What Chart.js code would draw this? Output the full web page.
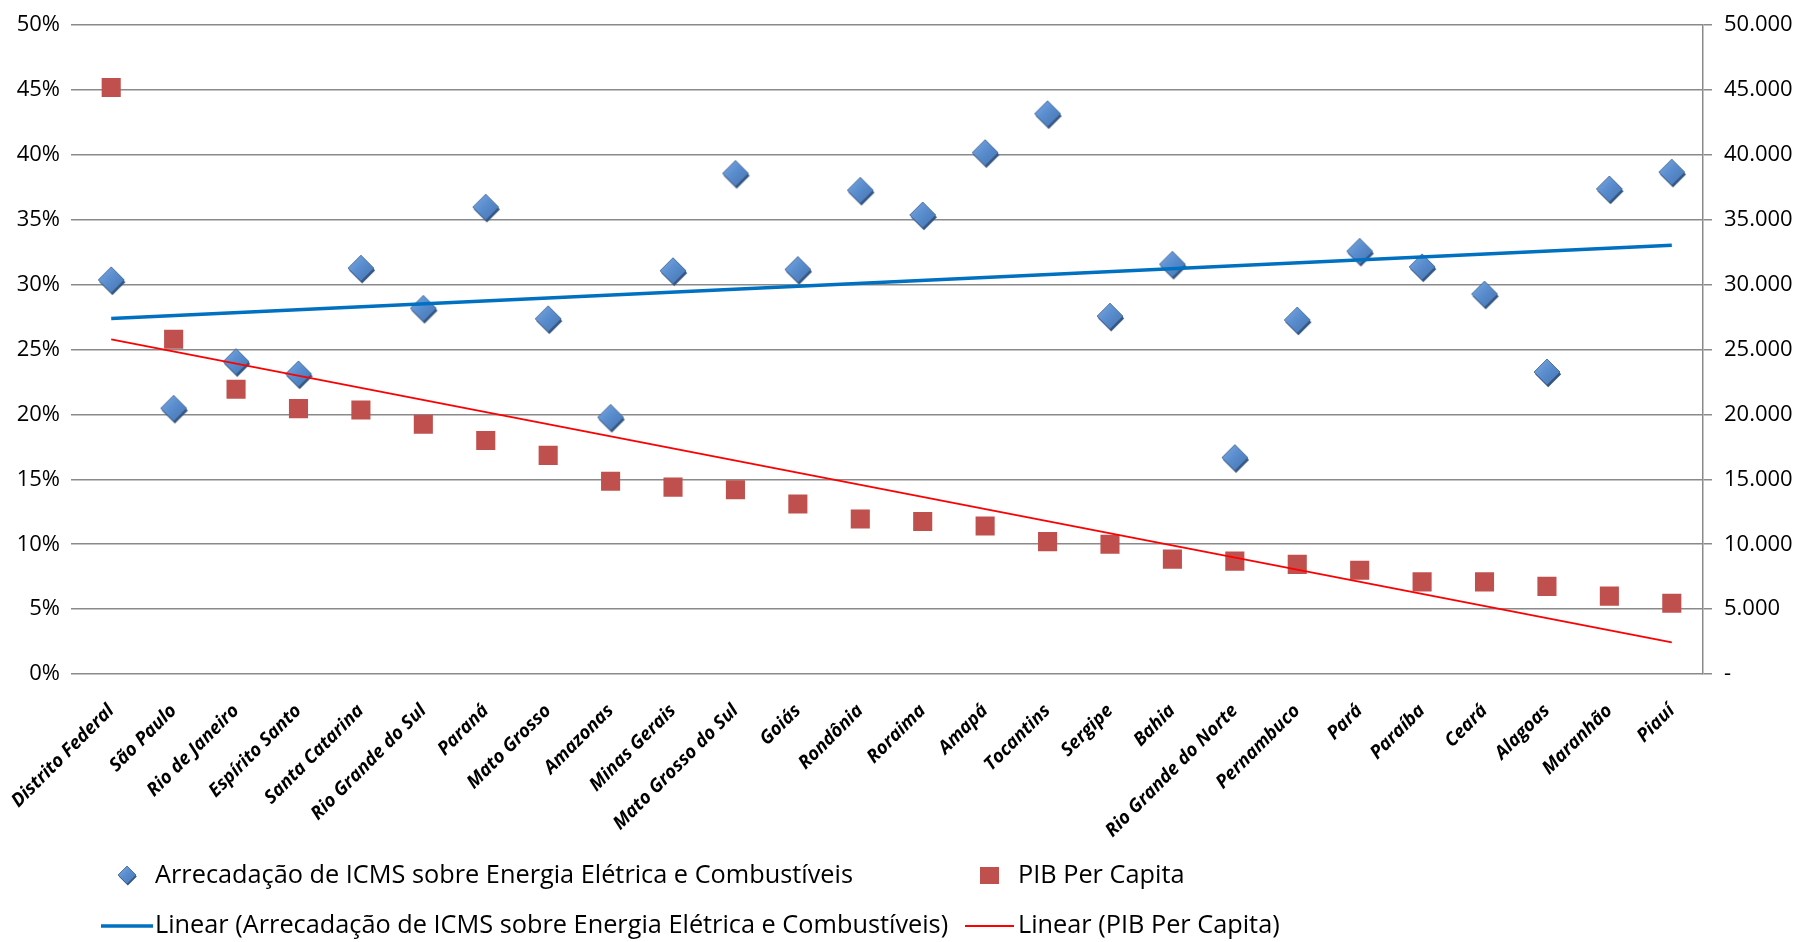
<!DOCTYPE html>
<html lang="pt-BR">
<head>
<meta charset="utf-8">
<title>ICMS sobre Energia Elétrica e Combustíveis x PIB Per Capita</title>
<script src="https://cdn.jsdelivr.net/npm/chart.js@4.4.1/dist/chart.umd.min.js"></script>
<style>
  html, body { margin: 0; padding: 0; background: #fff; }
  #wrap { width: 1800px; height: 942px; }
</style>
</head>
<body>
<div id="wrap"><canvas id="grafico" width="1800" height="942"></canvas></div>
<script>
// Estados ordenados pelo PIB per capita
const estados = [
  'Distrito Federal', 'São Paulo', 'Rio de Janeiro', 'Espírito Santo', 'Santa Catarina',
  'Rio Grande do Sul', 'Paraná', 'Mato Grosso', 'Amazonas', 'Minas Gerais',
  'Mato Grosso do Sul', 'Goiás', 'Rondônia', 'Roraima', 'Amapá', 'Tocantins',
  'Sergipe', 'Bahia', 'Rio Grande do Norte', 'Pernambuco', 'Pará', 'Paraíba',
  'Ceará', 'Alagoas', 'Maranhão', 'Piauí'
];

// Participação do ICMS sobre energia elétrica e combustíveis na arrecadação (%)
const icmsEnergiaCombustiveis = [
  30.3, 20.4, 24.0, 23.05, 31.2, 28.1, 35.9, 27.3, 19.7, 31.0,
  38.5, 31.1, 37.2, 35.3, 40.1, 43.1, 27.5, 31.5, 16.6, 27.2,
  32.5, 31.3, 29.2, 23.2, 37.3, 38.6
];

// PIB per capita (R$)
const pibPerCapita = [
  45200, 25800, 21950, 20450, 20350, 19250, 18000, 16850, 14850, 14400,
  14200, 13100, 11950, 11750, 11400, 10200, 10000, 8850, 8700, 8450,
  8000, 7100, 7100, 6750, 6000, 5450
];

// Extremos das linhas de tendência linear (primeiro e último estado)
const tendenciaIcms = [27.4, 33.05];
const tendenciaPib = [25780, 2430];

const nomesSeries = [
  'Arrecadação de ICMS sobre Energia Elétrica e Combustíveis',
  'PIB Per Capita',
  'Linear (Arrecadação de ICMS sobre Energia Elétrica e Combustíveis)',
  'Linear (PIB Per Capita)'
];

const AZUL_TENDENCIA = '#0070C0';
const VERMELHO_TENDENCIA = '#FF0000';
const VERMELHO_PIB = '#C0504D';
const CINZA_GRADE = '#8a8a8a';

// Losango com relevo (face em degradê e borda inferior escura)
function losango(meia) {
  const sombra = Math.max(1.5, meia * 0.18);
  const tam = Math.ceil(2 * meia + 8);
  const cv = document.createElement('canvas');
  cv.width = tam; cv.height = tam;
  const g = cv.getContext('2d');
  const cx = tam / 2, cy = tam / 2 - 1;
  const caminho = (x, y, r) => {
    g.beginPath();
    g.moveTo(x, y - r); g.lineTo(x + r, y); g.lineTo(x, y + r); g.lineTo(x - r, y);
    g.closePath();
  };
  caminho(cx + sombra * 0.5, cy + sombra, meia);
  g.fillStyle = '#34557f';
  g.fill();
  const grad = g.createLinearGradient(cx - meia, cy - meia, cx + meia, cy + meia);
  grad.addColorStop(0, '#7eaae0');
  grad.addColorStop(0.45, '#5b8ecf');
  grad.addColorStop(1, '#4473b1');
  caminho(cx, cy, meia);
  g.fillStyle = grad;
  g.fill();
  g.lineWidth = 1;
  g.strokeStyle = 'rgba(60,95,145,0.8)';
  g.stroke();
  return cv;
}

const losangoGrafico = losango(13);
const losangoLegenda = losango(9);

const formatarMilhar = v => v === 0 ? '-' : String(v).replace(/\B(?=(\d{3})+(?!\d))/g, '.');

// Legenda em duas linhas abaixo do eixo das categorias
const legendaInferior = {
  id: 'legendaInferior',
  afterDraw(chart) {
    const ctx = chart.ctx;
    const ds = chart.data.datasets;
    ctx.save();
    ctx.font = '25.3px "Open Sans"';
    ctx.fillStyle = '#000';
    ctx.textBaseline = 'middle';
    ctx.textAlign = 'left';

    const y1 = 876, y2 = 926;

    ctx.drawImage(losangoLegenda, 127 - losangoLegenda.width / 2, y1 - losangoLegenda.height / 2);
    ctx.fillText(ds[2].label, 155, y1);

    ctx.fillStyle = VERMELHO_PIB;
    ctx.fillRect(980, y1 - 9, 19, 17);
    ctx.fillStyle = '#000';
    ctx.fillText(ds[3].label, 1018, y1);

    ctx.strokeStyle = AZUL_TENDENCIA;
    ctx.lineWidth = 3.5;
    ctx.beginPath(); ctx.moveTo(101, y2); ctx.lineTo(153, y2); ctx.stroke();
    ctx.fillText(ds[0].label, 155, y2);

    ctx.strokeStyle = VERMELHO_TENDENCIA;
    ctx.lineWidth = 1.8;
    ctx.beginPath(); ctx.moveTo(965, y2); ctx.lineTo(1014, y2); ctx.stroke();
    ctx.fillText(ds[1].label, 1018, y2);
    ctx.restore();
  }
};

new Chart(document.getElementById('grafico'), {
  type: 'line',
  data: {
    labels: estados,
    datasets: [
      {
        label: nomesSeries[2],
        data: [
          { x: estados[0], y: tendenciaIcms[0] },
          { x: estados[estados.length - 1], y: tendenciaIcms[1] }
        ],
        yAxisID: 'y',
        borderColor: AZUL_TENDENCIA,
        borderWidth: 3.5,
        pointRadius: 0,
        fill: false,
        order: 0
      },
      {
        label: nomesSeries[3],
        data: [
          { x: estados[0], y: tendenciaPib[0] },
          { x: estados[estados.length - 1], y: tendenciaPib[1] }
        ],
        yAxisID: 'y1',
        borderColor: VERMELHO_TENDENCIA,
        borderWidth: 1.8,
        pointRadius: 0,
        fill: false,
        order: 0
      },
      {
        label: nomesSeries[0],
        data: icmsEnergiaCombustiveis,
        yAxisID: 'y',
        showLine: false,
        pointStyle: losangoGrafico,
        pointRadius: 13,
        order: 2
      },
      {
        label: nomesSeries[1],
        data: pibPerCapita,
        yAxisID: 'y1',
        showLine: false,
        pointStyle: 'rect',
        pointRadius: 13.5,
        pointBorderWidth: 0,
        pointBackgroundColor: VERMELHO_PIB,
        pointBorderColor: VERMELHO_PIB,
        order: 1
      }
    ]
  },
  options: {
    responsive: false,
    devicePixelRatio: 1,
    animation: false,
    layout: { padding: { top: 20, left: 0, right: 0, bottom: 0 } },
    plugins: {
      legend: { display: false },
      tooltip: { enabled: false }
    },
    scales: {
      x: {
        type: 'category',
        offset: true,
        grid: { display: false, drawTicks: false },
        border: { display: false },
        ticks: {
          autoSkip: false,
          maxRotation: 45,
          minRotation: 45,
          padding: 26,
          color: '#000',
          font: { family: '"Open Sans"', size: 18.5, weight: 'bold', style: 'italic' }
        },
        afterFit(scale) {
          // rotulos inclinados podem ultrapassar a margem esquerda sem deslocar a area do grafico
          scale.height = 268;
          scale.paddingLeft = 0;
          scale.paddingRight = 0;
        }
      },
      y: {
        position: 'left',
        min: 0,
        max: 50,
        ticks: {
          stepSize: 5,
          padding: 11,
          color: '#000',
          font: { family: '"Open Sans"', size: 22 },
          callback: v => v + '%'
        },
        grid: { color: CINZA_GRADE, lineWidth: 1.5, tickLength: 9 },
        border: { display: false },
        afterFit(scale) { scale.width = 80; }
      },
      y1: {
        position: 'right',
        min: 0,
        max: 50000,
        ticks: {
          stepSize: 5000,
          padding: 12,
          color: '#000',
          font: { family: '"Open Sans"', size: 22 },
          callback: v => formatarMilhar(v)
        },
        grid: { drawOnChartArea: false, color: CINZA_GRADE, lineWidth: 1.5, tickLength: 9 },
        border: { display: true, color: CINZA_GRADE, width: 1.5 },
        afterFit(scale) { scale.width = 97; }
      }
    }
  },
  plugins: [legendaInferior]
});
</script>
</body>
</html>
